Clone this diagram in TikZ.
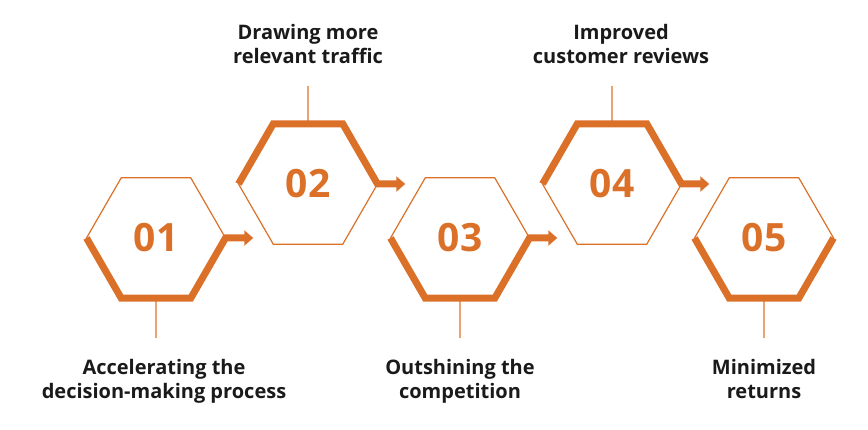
\documentclass[tikz,border=0pt]{standalone}
\usepackage{fontspec}
\setmainfont{Open Sans}
\usetikzlibrary{shapes.geometric,arrows.meta,positioning}
\definecolor{myorange}{RGB}{219,112,41}
\definecolor{mytext}{RGB}{26,26,26}
\tikzset{
  hexa/.style={draw=myorange,line width=1.2pt,regular polygon,regular polygon sides=6,minimum size=139pt,inner sep=0pt,outer sep=0pt,text=myorange,font=\fontsize{39}{39}\selectfont\bfseries},
  band/.style={draw=myorange,line width=7pt,line join=miter,line cap=butt},
  stem/.style={draw=myorange,line width=1.2pt},
  lbl/.style={align=center,inner sep=0pt,text=mytext,font=\fontsize{20}{23.5}\selectfont\bfseries},
}

\begin{document}
\begin{tikzpicture}[x=1pt,y=-1pt,
    next/.style={band,-{Triangle[length=9pt,width=15pt]},shorten >=20pt},
  ]
    \useasboundingbox (0,0) rectangle (868,430);

    %────────── HEXAGONS ───────────
    \node[hexa] (h1) at (156,238) {01};
    \node[hexa,right=13pt of h1,yshift=54pt] (h2) {02};
    \node[hexa,right=13pt of h2,yshift=-54pt] (h3) {03};
    \node[hexa,right=13pt of h3,yshift=54pt] (h4) {04};
    \node[hexa,right=13pt of h4,yshift=-54pt] (h5) {05};

    %────────── BANDS + ARROWS ─────
    \draw[next] (h1.180) -- (h1.240) -- (h1.300) -- (h1.0) -- (h1.0 -| h2.240);
    \draw[next] (h2.180) -- (h2.120) -- (h2.60) -- (h2.0) -- (h2.0 -| h3.120);
    \draw[next] (h3.180) -- (h3.240) -- (h3.300) -- (h3.0) -- (h3.0 -| h4.240);
    \draw[next] (h4.180) -- (h4.120) -- (h4.60) -- (h4.0) -- (h4.0 -| h5.120);
    \draw[band] (h5.180) -- (h5.240) -- (h5.300) -- (h5.0);

    %────────── BOTTOM LABELS ──────
    \coordinate[below=40pt of h1] (c1);
    \draw[stem] (h1) -- (c1);
    \node[lbl,below=21pt of c1,xshift=8pt] (l1) {Accelerating the\\decision-making process};

    \coordinate[below=40pt of h3] (c3);
    \draw[stem] (h3) -- (c3);
    \node[lbl,below=21pt of c3] (l3) {Outshining the\\competition};

    \coordinate[below=40pt of h5] (c5);
    \draw[stem] (h5) -- (c5);
    \node[lbl,below=21pt of c5] (l5) {Minimized\\returns};

    %────────── TOP LABELS ─────────
    \coordinate[above=38pt of h2] (c2);
    \draw[stem] (h2) -- (c2);
    \node[lbl,above=22pt of c2] (l2) {Drawing more\\relevant traffic};

    \coordinate[above=38pt of h4] (c4);
    \draw[stem] (h4) -- (c4);
    \node[lbl,above=22pt of c4,xshift=9pt] (l4) {Improved\\customer reviews};
\end{tikzpicture}
\end{document}
